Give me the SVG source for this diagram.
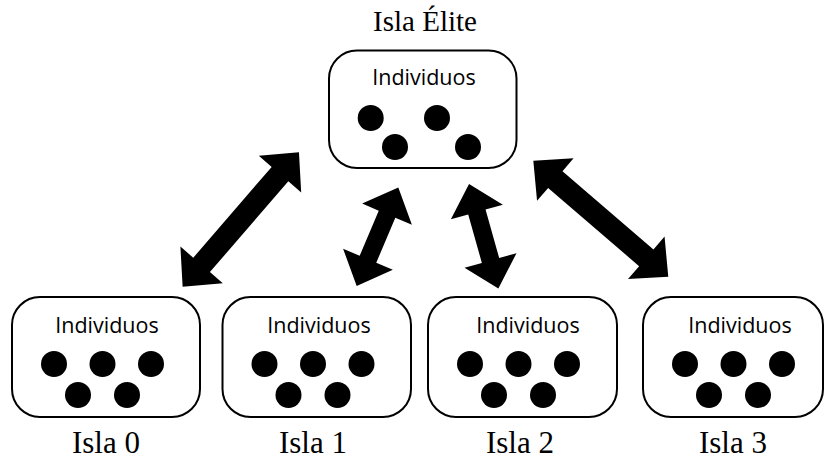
<svg xmlns="http://www.w3.org/2000/svg" width="825" height="459" viewBox="0 0 825 459">
  <style>
    .box { fill: #ffffff; stroke: #000000; stroke-width: 2; }
    .dot { fill: #000000; }
    .inner { font-family: "Open Sans", "Liberation Sans", sans-serif; font-size: 21.5px; fill: #000000; text-anchor: middle; }
    .title { font-family: "Liberation Serif", "DejaVu Serif", serif; font-size: 31px; fill: #000000; text-anchor: middle; }
    .arrow { fill: #000000; }
  </style>
  <defs>
    <!-- five individuals of one island -->
    <g id="dots">
      <circle class="dot" cx="42" cy="67" r="13"/>
      <circle class="dot" cx="90.5" cy="67" r="13"/>
      <circle class="dot" cx="139" cy="67" r="13"/>
      <circle class="dot" cx="66" cy="98" r="13"/>
      <circle class="dot" cx="115" cy="98" r="13"/>
    </g>
  </defs>

  <!-- elite island -->
  <g id="elite">
    <text class="title" x="425" y="31" style="font-size:29px">Isla Élite</text>
    <rect class="box" x="329" y="50.5" width="187.5" height="117.5" rx="28" ry="28"/>
    <text class="inner" x="424" y="85">Individuos</text>
    <circle class="dot" cx="370.7" cy="118" r="13"/>
    <circle class="dot" cx="437" cy="118" r="13"/>
    <circle class="dot" cx="395" cy="147" r="13"/>
    <circle class="dot" cx="468" cy="147" r="13"/>
  </g>

  <!-- regular islands -->
  <g id="isla0">
    <rect class="box" x="12" y="297" width="188" height="120" rx="28" ry="28"/>
    <text class="inner" x="107" y="333">Individuos</text>
    <use href="#dots" transform="translate(12,297)"/>
    <text class="title" x="106" y="453">Isla 0</text>
  </g>
  <g id="isla1">
    <rect class="box" x="222.5" y="297" width="188.5" height="120" rx="28" ry="28"/>
    <text class="inner" x="319" y="333">Individuos</text>
    <use href="#dots" transform="translate(222.5,297)"/>
    <text class="title" x="313" y="453">Isla 1</text>
  </g>
  <g id="isla2">
    <rect class="box" x="428" y="297" width="189" height="120" rx="28" ry="28"/>
    <text class="inner" x="528" y="333">Individuos</text>
    <use href="#dots" transform="translate(428,297)"/>
    <text class="title" x="520" y="453">Isla 2</text>
  </g>
  <g id="isla3">
    <rect class="box" x="643" y="297" width="180" height="120" rx="28" ry="28"/>
    <text class="inner" x="740" y="333">Individuos</text>
    <use href="#dots" transform="translate(643,297)"/>
    <text class="title" x="733" y="453">Isla 3</text>
  </g>

  <!-- migration connectors: double-headed block arrows -->
  <g id="connectors">
    <polygon class="arrow" transform="translate(240.8,219.5) rotate(-49.2)"
      points="-89,0 -60,-28 -60,-11 60,-11 60,-28 89,0 60,28 60,11 -60,11 -60,28"/>
    <polygon class="arrow" transform="translate(377.5,236.7) rotate(-67.1)"
      points="-53.5,0 -24.5,-27 -24.5,-9 24.5,-9 24.5,-27 53.5,0 24.5,27 24.5,9 -24.5,9 -24.5,27"/>
    <polygon class="arrow" transform="translate(483.7,236.2) rotate(74.3)"
      points="-54.2,0 -25.2,-27 -25.2,-9 25.2,-9 25.2,-27 54.2,0 25.2,27 25.2,9 -25.2,9 -25.2,27"/>
    <polygon class="arrow" transform="translate(600.8,218.7) rotate(40.7)"
      points="-89,0 -60,-28 -60,-11 60,-11 60,-28 89,0 60,28 60,11 -60,11 -60,28"/>
  </g>
</svg>
